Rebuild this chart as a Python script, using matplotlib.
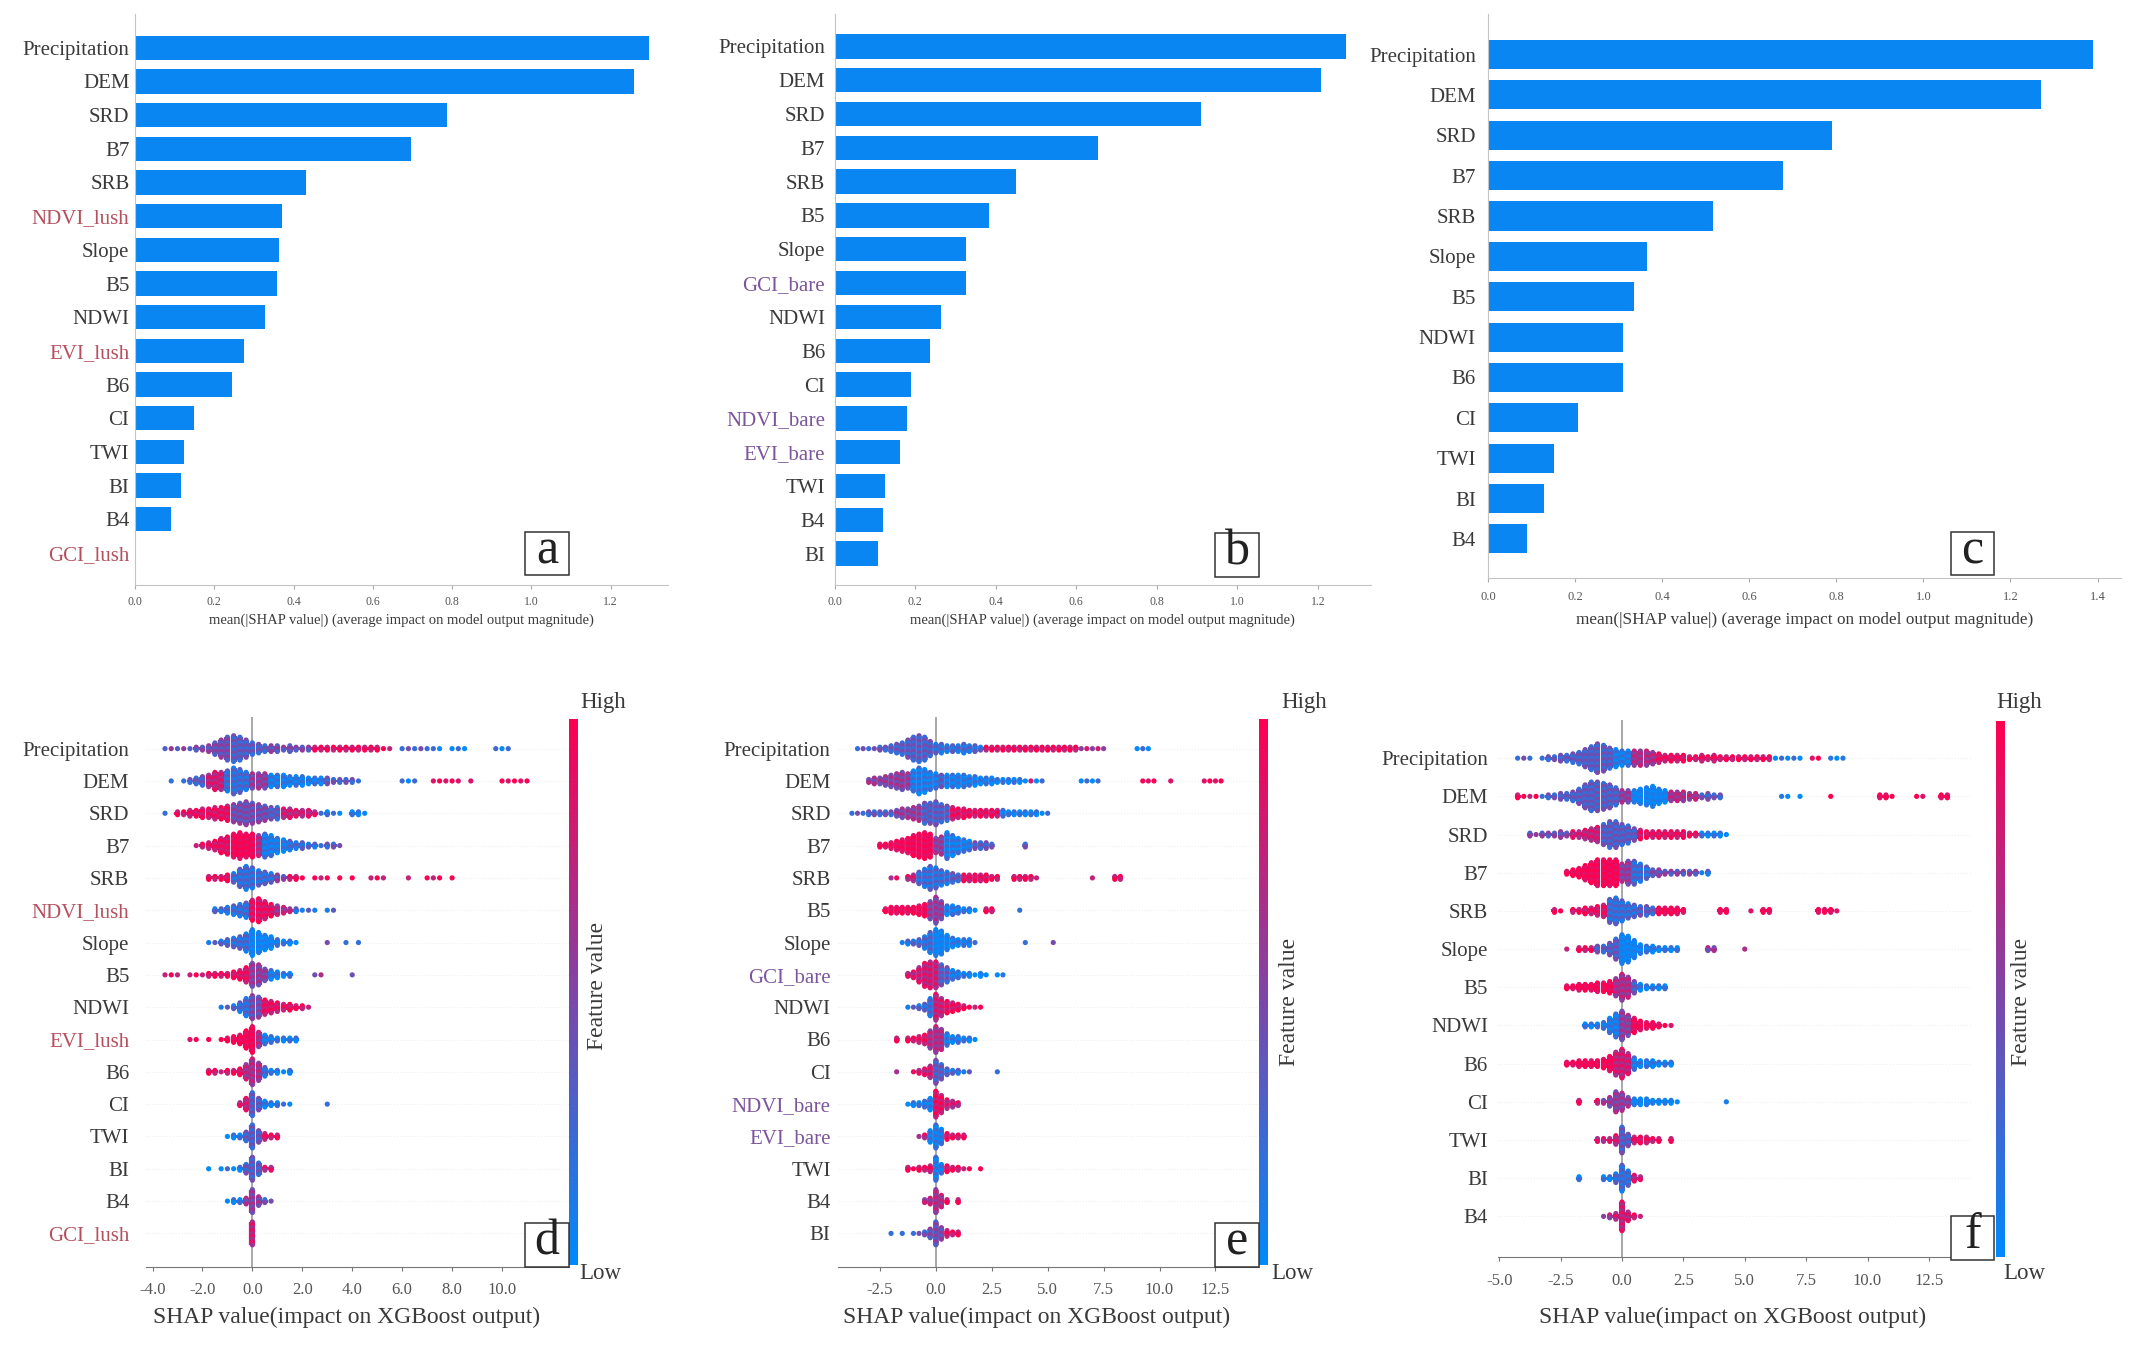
import numpy as np
import matplotlib
matplotlib.use('Agg')
import matplotlib.pyplot as plt
from matplotlib.colors import LinearSegmentedColormap
from matplotlib.patches import Rectangle

plt.rcParams['font.family'] = ['Liberation Serif', 'DejaVu Serif']

# ---------- bar panels ----------
a_labels = ['Precipitation', 'DEM', 'SRD', 'B7', 'SRB', 'NDVI_lush', 'Slope', 'B5', 'NDWI', 'EVI_lush', 'B6', 'CI', 'TWI', 'BI', 'B4', 'GCI_lush']
a_values = [1.296, 1.259, 0.786, 0.697, 0.431, 0.372, 0.362, 0.359, 0.328, 0.276, 0.245, 0.148, 0.124, 0.117, 0.09, 0.0]
b_labels = ['Precipitation', 'DEM', 'SRD', 'B7', 'SRB', 'B5', 'Slope', 'GCI_bare', 'NDWI', 'B6', 'CI', 'NDVI_bare', 'EVI_bare', 'TWI', 'B4', 'BI']
b_values = [1.27, 1.207, 0.91, 0.654, 0.45, 0.383, 0.325, 0.325, 0.264, 0.237, 0.19, 0.18, 0.163, 0.125, 0.119, 0.108]
c_labels = ['Precipitation', 'DEM', 'SRD', 'B7', 'SRB', 'Slope', 'B5', 'NDWI', 'B6', 'CI', 'TWI', 'BI', 'B4']
c_values = [1.39, 1.27, 0.79, 0.677, 0.517, 0.364, 0.335, 0.31, 0.31, 0.207, 0.15, 0.129, 0.09]
ab_ticks = [0.0, 0.2, 0.4, 0.6, 0.8, 1.0, 1.2]
c_ticks = [0.0, 0.2, 0.4, 0.6, 0.8, 1.0, 1.2, 1.4]
bar_xlabel = 'mean(|SHAP value|) (average impact on model output magnitude)'

# ---------- beeswarm panels: dots per 0.25 wide bin, first bin in *_starts ----------
bin_width = 0.25
d_starts = [-3.5, -3.25, -3.5, -2.25, -1.75, -1.5, -1.75, -3.5, -1.25, -2.5, -1.75, -0.5, -1.0, -1.75, -1.0, 0.0]
d_counts = [
    [1,1,1,1,1,2,2,3,5,7,9,10,9,7,5,4,3,3,3,2,3,2,2,2,2,2,2,2,2,2,2,2,2,2,2,1,1,0,1,1,1,1,1,1,1,0,1,1,1,0,0,0,0,1,1,1],
    [1,0,1,2,3,4,5,7,7,8,10,9,7,6,6,6,5,5,5,4,4,4,3,3,3,3,2,2,2,2,1,0,0,0,0,0,0,1,1,1,0,0,1,1,1,1,1,0,1,0,0,0,0,1,1,1,1,1],
    [1,0,2,2,3,3,4,4,5,5,6,7,8,9,8,7,6,5,5,4,4,3,3,3,2,1,2,1,1,0,2,2,1],
    [1,2,3,4,6,7,9,10,9,9,8,9,8,6,5,4,3,3,2,2,1,2,2,1],
    [2,2,2,3,4,7,9,8,6,5,4,3,2,2,2,1,0,1,1,1,0,1,0,1,0,0,1,1,1,0,0,0,1,0,0,1,1,1,0,1],
    [2,2,3,4,5,6,8,9,7,5,4,3,2,2,1,1,1,0,1,1],
    [1,1,2,3,4,5,7,10,8,6,5,3,2,2,1,0,0,0,0,1,0,0,1,0,1],
    [1,1,1,0,1,1,1,2,2,2,2,3,4,6,9,8,5,4,3,2,2,0,0,0,1,1,0,0,0,0,1],
    [1,1,2,4,7,9,8,6,5,4,3,3,2,2,1],
    [1,1,0,1,0,1,2,3,4,7,10,6,4,3,2,2,2,2],
    [2,2,1,2,2,3,6,10,7,4,2,2,1,2],
    [2,5,9,5,3,2,2,1,1,0,0,0,0,0,1],
    [1,2,2,4,9,5,3,2,2],
    [1,0,1,1,1,2,4,9,5,2,2],
    [1,2,2,3,9,4,2,1],
    [9],
]
d_level_x = [[-1.0,0.5,2.25,5.5,7.0,11.0],[-2.0,-1.25,-0.25,0.5,2.75,4.25,6.75,11.5],[-3.25,-1.0,0.5,1.0,2.5,5.0],[-1.0,0.0,0.25,1.25,2.5,4.0],
             [-1.0,0.75,1.25,8.25],[-0.25,0.75,1.5,3.5],[-0.25,0.75,1.75,4.5],[-0.25,0.5,1.75,4.25],[-0.25,0.25,2.5],[0.0,0.25,2.0],
             [-0.5,0.25,0.5,1.75],[-0.25,0.25,1.5,3.25],[-0.5,0.25,1.25],[-0.5,0.25,1.0],[-0.5,0.25,1.0],[0.25]]
d_level_c = [[4,3,4,8,3,1],[3,7,2,5,1,3,1,9],[3,8,4,3,7,1],[8,9,6,1,2,3],
             [8,2,4,8],[2,8,6,2],[2,0,1,3],[8,5,1,5],[2,4,8],[9,6,1],
             [8,6,2,1],[7,3,1,3],[1,3,8],[1,3,7],[1,5,3],[7]]

e_starts = [-3.5, -3.0, -3.75, -2.5, -2.0, -2.25, -1.5, -1.25, -1.25, -1.75, -1.75, -1.25, -0.75, -1.25, -0.5, -2.0]
e_counts = [
    [1,1,1,1,2,2,3,4,5,7,9,10,9,6,4,4,3,3,3,4,3,3,2,2,2,2,2,2,2,2,2,2,2,2,2,2,2,2,2,2,1,1,1,1,1,0,0,0,0,0,1,1,1],
    [2,3,3,4,5,6,7,6,8,10,9,7,6,5,5,5,5,5,4,4,3,3,3,2,2,2,2,2,1,1,1,1,0,0,0,0,0,0,1,1,1,1,0,0,0,0,0,0,0,1,1,1,0,0,1,0,0,0,0,0,1,1,1,1],
    [1,1,1,2,2,2,2,2,3,4,4,5,6,8,8,9,7,6,5,4,4,3,3,3,3,3,3,3,2,2,2,2,2,2,1,1],
    [2,2,3,4,5,6,8,9,10,9,6,7,10,8,6,5,4,3,3,3,2,0,0,0,0,0,2],
    [1,1,0,2,3,5,7,9,8,6,5,4,3,3,3,3,3,3,2,2,0,0,2,2,2,2,1,0,0,0,0,0,0,0,0,0,1,0,0,0,2,2],
    [2,3,3,3,3,3,4,5,7,10,7,4,4,3,2,2,1,0,2,2,0,0,0,0,1],
    [1,2,2,3,5,8,10,9,6,4,3,3,3,1,0,0,0,0,0,0,0,0,1,0,0,0,0,1],
    [2,3,6,9,10,10,8,6,4,3,2,2,1,2,1,0,1,1],
    [1,1,2,3,7,10,7,5,4,3,2,1,1,1],
    [2,0,2,2,3,4,7,10,8,5,3,3,2,2,1],
    [1,0,0,1,2,3,5,9,6,3,2,2,1,1,0,0,0,0,1],
    [1,2,2,3,5,10,7,4,3,2],
    [1,2,5,9,6,3,2,2,2],
    [2,1,2,2,3,9,4,3,2,2,1,1,0,1],
    [2,3,9,5,2,0,2],
    [1,0,1,0,1,1,2,4,9,5,3,2,2],
]
e_level_x = [[-0.25,2.0,6.25,7.75,10.0],[-1.25,0.0,0.25,4.0,4.25,7.5,13.0],[-2.0,-0.75,0.5,2.75,5.25],[-0.25,0.25,1.5,2.75,4.25],
             [-1.0,0.5,1.0,8.5],[-0.5,0.25,1.75,2.75,4.0],[-0.25,0.5,1.75,5.5],[0.0,0.5,1.25,3.25],[-0.25,0.25,2.25],[-0.5,0.25,1.75],
             [-0.25,0.25,1.5,3.0],[-0.25,0.25,1.25],[-0.5,0.25,1.5],[-0.25,0.25,2.25],[0.25,1.25],[-0.5,0.25,1.25]]
e_level_c = [[3,2,8,6,1],[5,1,3,1,6,1,9],[3,5,3,8,1],[9,5,1,3,3],
             [7,2,3,8],[9,5,1,8,3],[2,0,1,3],[7,3,1,0],[2,7,8],[8,6,1],
             [7,3,2,3],[1,8,7],[7,1,8],[8,1,8],[6,8],[3,4,8]]

f_starts = [-4.25, -4.25, -3.75, -2.25, -2.75, -2.25, -2.25, -1.5, -2.25, -1.75, -1.0, -1.75, -0.75]
f_counts = [
    [1,1,1,0,1,2,2,3,3,4,5,7,9,11,10,8,7,6,6,6,6,6,5,4,3,3,3,3,2,2,3,2,3,2,2,2,2,2,2,2,2,2,1,1,1,1,1,0,1,1,0,1,1,1],
    [2,1,1,1,1,2,2,3,3,4,6,9,11,11,10,9,7,5,5,5,6,7,8,6,5,4,4,4,3,3,2,3,2,2,0,0,0,0,0,0,0,0,0,1,1,0,1,0,0,0,0,1,0,0,0,0,0,0,0,2,2,1,0,0,0,1,1,0,0,2,2],
    [2,1,2,2,2,3,2,3,3,4,5,6,8,10,10,8,7,5,4,3,3,3,3,3,3,3,2,2,2,2,2,2,1],
    [2,3,4,6,8,10,10,10,10,7,9,9,7,5,3,3,2,2,2,2,2,2,1,2],
    [2,1,0,2,2,3,3,4,5,9,10,8,6,5,4,4,3,3,3,3,3,2,0,0,0,0,0,2,2,0,0,0,1,0,2,2,0,0,0,0,0,0,0,2,2,2,1],
    [1,0,2,2,2,3,3,5,8,11,10,7,4,3,3,2,2,2,2,0,0,0,0,2,2,0,0,0,0,1],
    [2,2,3,3,3,4,4,5,7,10,8,5,3,2,2,2,2],
    [2,2,2,3,6,9,11,8,6,4,3,3,2,1,1],
    [2,2,3,3,3,3,4,6,9,11,8,5,3,3,3,2,2,2],
    [2,0,0,2,2,4,8,7,4,3,3,3,2,2,2,2,1,0,0,0,0,0,0,0,1],
    [2,2,2,4,10,5,3,3,3,2,2,0,2],
    [2,0,0,0,2,2,4,10,6,3,2],
    [1,2,3,11,4,2,1],
]
f_level_x = [[-2.0,-0.5,0.25,1.25,6.0,7.5,8.0,9.25],[-3.5,-1.5,-0.25,0.25,1.75,3.0,4.25,8.0,13.5],[-2.25,-1.0,0.5,3.0,4.5],[-0.25,0.25,1.0,3.0,3.75],
             [-0.75,0.5,1.25,9.0],[-1.25,-0.25,0.75,2.5,5.25],[-0.5,0.25,0.5,2.0],[-0.25,0.25,2.25],[-0.5,0.25,2.25],[-1.0,0.25,2.5,4.5],
             [-0.25,0.25,2.25],[-0.5,0.25,1.0],[-0.5,0.25,1.0]]
f_level_c = [[3,3,1,6,8,1,9,0],[8,3,3,5,0,6,3,0,9],[4,7,3,8,1],[9,5,2,4,2],
             [8,2,3,9],[8,3,0,1,5],[9,6,3,1],[1,5,9],[9,7,1],[8,5,0,2],
             [7,3,8],[1,2,7],[6,7,8]]

d_ticks = [-4.0, -2.0, 0.0, 2.0, 4.0, 6.0, 8.0, 10.0]
ef_ticks = [-5.0, -2.5, 0.0, 2.5, 5.0, 7.5, 10.0, 12.5]
swarm_xlabel = 'SHAP value(impact on XGBoost output)'

# colours
bar_blue = '#0a86f2'
text_grey = '#3a3a3a'
lush_red = '#b5505f'
bare_purple = '#7c559c'
shap_cmap = LinearSegmentedColormap.from_list('shap', ['#008afb', '#8045a6', '#ff0051'])

# everything below is placed in the pixel grid of the 1568x990 view
W, H = 1568.0, 990.0
PX = 2139 / W
fig = plt.figure(figsize=(21.39, 13.5), dpi=100, facecolor='white')


def make_axes(left, right, top, bottom):
    return fig.add_axes([left / W, 1 - bottom / H, (right - left) / W, (bottom - top) / H])


def label_colour(name):
    if name.endswith('_lush'):
        return lush_red
    if name.endswith('_bare'):
        return bare_purple
    return text_grey


def set_rows(ax, labels, y0, step, top, bottom, pad):
    ax.set_ylim((bottom - y0) / step, (top - y0) / step)
    ax.set_yticks(range(len(labels)))
    ax.set_yticklabels(labels, fontsize=15)
    for tick, name in zip(ax.get_yticklabels(), labels):
        tick.set_color(label_colour(name))
    ax.tick_params(axis='y', length=0, pad=pad)


def bar_panel(labels, values, ticks, x0, unit, y0, step, left, right, top, bottom, xlabel_size, tick_size, lab_pad, tick_pad, pad):
    ax = make_axes(left, right, top, bottom)
    ax.barh(range(len(labels)), values, height=0.72, color=bar_blue)
    ax.set_xlim((left - x0) / unit, (right - x0) / unit)
    set_rows(ax, labels, y0, step, top, bottom, pad)
    ax.set_xticks(ticks)
    ax.set_xticklabels(['%.1f' % t for t in ticks], fontsize=tick_size, color='#555555')
    ax.tick_params(axis='x', length=3, width=0.8, color='#aaaaaa', pad=tick_pad)
    ax.set_xlabel(bar_xlabel, fontsize=xlabel_size, color=text_grey, labelpad=lab_pad)
    for side in ['top', 'right']:
        ax.spines[side].set_visible(False)
    ax.spines['left'].set_color('#c4c4c4')
    ax.spines['bottom'].set_color('#c4c4c4')
    return ax


def swarm_panel(labels, starts, counts, level_x, level_c, ticks, x0, unit, y0, step, left, right, top, bottom, tick_pad, pad):
    ax = make_axes(left, right, top, bottom)
    dy = 2.1 / step
    xs, ys, cs = [], [], []
    bx, blo, bhi, bc = [], [], [], []
    for row, (start, row_counts) in enumerate(zip(starts, counts)):
        lx, lc = level_x[row], level_c[row]
        for i, n in enumerate(row_counts):
            x = start + i * bin_width
            lev = lc[min(int(np.searchsorted(lx, x)), len(lc) - 1)]
            if n >= 2:
                bx.append(x)
                blo.append(row - (n - 1) / 2 * dy)
                bhi.append(row + (n - 1) / 2 * dy)
                bc.append(lev / 9)
            for k in range(n):
                xs.append(x)
                ys.append(row + (k - (n - 1) / 2) * dy)
                # neighbouring dots differ a little, the swarm looks speckled
                cs.append(min(max(lev + (1.2 if (k + i) % 2 else -1.2), 0), 9) / 9)
    for row in range(len(labels)):
        ax.axhline(row, color='#efefef', linewidth=0.8, linestyle=':', zorder=0)
    ax.axvline(0, color='#a8a8a8', linewidth=1.4, zorder=1)
    # the solid part of the swarm under the dots, one column per bin
    col_width = bin_width * unit * PX * 72 / 100
    ax.vlines(bx, blo, bhi, colors=shap_cmap(bc), linewidths=col_width, capstyle='butt', zorder=2)
    ax.scatter(xs, ys, c=cs, cmap=shap_cmap, vmin=0, vmax=1, s=14, linewidths=0, zorder=3)
    ax.set_xlim((left - x0) / unit, (right - x0) / unit)
    set_rows(ax, labels, y0, step, top, bottom, pad)
    ax.set_xticks(ticks)
    ax.set_xticklabels(['%.1f' % t for t in ticks], fontsize=12, color='#555555')
    ax.tick_params(axis='x', length=3, width=0.8, color='#777777', pad=tick_pad)
    for side in ['top', 'right', 'left']:
        ax.spines[side].set_visible(False)
    ax.spines['bottom'].set_color('#777777')
    return ax


def colour_strip(left, right, top, bottom):
    ax = make_axes(left, right, top, bottom)
    ax.imshow(np.linspace(1, 0, 256).reshape(-1, 1), cmap=shap_cmap, aspect='auto')
    ax.axis('off')


bar_panel(a_labels, a_values, ab_ticks, 99, 290.5, 35, 24.7, 99, 490, 10, 429, 10.5, 8.5, 4, 5, 4)
bar_panel(b_labels, b_values, ab_ticks, 612, 295, 34, 24.8, 612, 1005, 10, 429, 10.5, 8.5, 4, 5, 7)
bar_panel(c_labels, c_values, c_ticks, 1091, 319, 40, 29.6, 1091, 1555, 10, 424, 12.4, 9, 7, 6, 9)

swarm_panel(a_labels, d_starts, d_counts, d_level_x, d_level_c, d_ticks, 185, 18.3, 549, 23.7, 107, 417, 526, 929, 8, 12)
swarm_panel(b_labels, e_starts, e_counts, e_level_x, e_level_c, ef_ticks[1:], 686, 16.4, 549, 23.7, 614, 923, 526, 929, 8, 5)
swarm_panel(c_labels, f_starts, f_counts, f_level_x, f_level_c, ef_ticks, 1189, 18.0, 556, 28.0, 1098, 1445, 528, 922, 8, 7)

colour_strip(417, 423, 527, 928)
colour_strip(923, 929, 527, 928)
colour_strip(1463, 1469, 529, 922)

# overlay for the colour bar texts, the swarm x labels and the panel letters
ov = fig.add_axes([0, 0, 1, 1], facecolor='none')
ov.set_xlim(0, W)
ov.set_ylim(H, 0)
ov.axis('off')

for x in [254, 760, 1270]:
    ov.text(x, 966, swarm_xlabel, fontsize=17, color=text_grey, ha='center', va='center')
for x, y, s in [(442, 515, 'High'), (440, 934, 'Low'), (956, 515, 'High'), (947, 934, 'Low'), (1480, 515, 'High'), (1484, 934, 'Low')]:
    ov.text(x, y, s, fontsize=16.5, color=text_grey, ha='center', va='center')
for x, y in [(438, 723), (945, 735), (1482, 735)]:
    ov.text(x, y, 'Feature value', fontsize=17, color=text_grey, rotation=90, ha='center', va='center')

for s, x, y in [('a', 385, 390), ('b', 891, 391), ('c', 1430, 390), ('d', 385, 897), ('e', 891, 897), ('f', 1430, 892)]:
    ov.add_patch(Rectangle((x, y), 32, 32, facecolor='white', edgecolor='#333333', linewidth=1.1))
    ov.text(x + 16, y + 14, s, fontsize=36, color='#222222', ha='center', va='center')

fig.savefig('out.png', dpi=100, facecolor='white')
